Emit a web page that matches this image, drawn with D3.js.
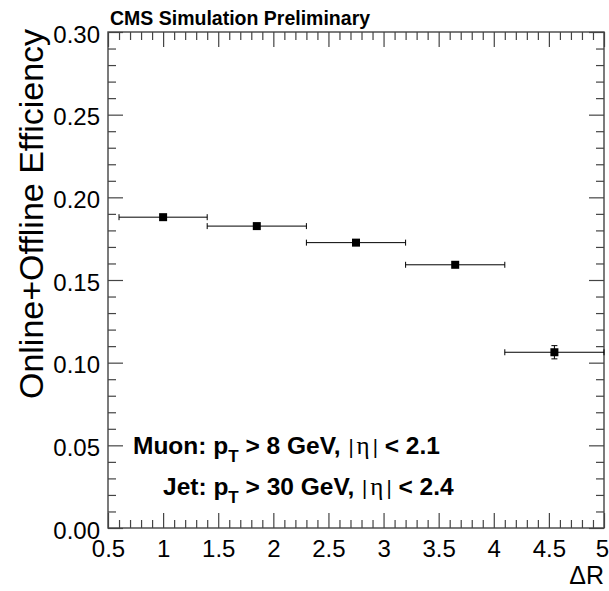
<!DOCTYPE html>
<html>
<head>
<meta charset="utf-8">
<script src="https://cdn.jsdelivr.net/npm/d3@7"></script>
<style>
  html, body { margin: 0; padding: 0; background: #fff; }
  svg { display: block; }
  text { font-family: "Liberation Sans", Arial, Helvetica, sans-serif; fill: #000; }
</style>
</head>
<body>
<svg id="chart" width="609" height="591"></svg>
<script>
// ---- data ----
const binLow  = [0.6, 1.4, 2.3, 3.2, 4.1];
const binHigh = [1.4, 2.3, 3.2, 4.1, 5.0];
const xCenter = [1.0, 1.85, 2.75, 3.65, 4.55];
const efficiency = [0.188, 0.1826, 0.1726, 0.1592, 0.1063];
const effError   = [0.0008, 0.0008, 0.0008, 0.0010, 0.0040];
const xTickLabels = ["0.5", "1", "1.5", "2", "2.5", "3", "3.5", "4", "4.5", "5"];
const yTickLabels = ["0.00", "0.05", "0.10", "0.15", "0.20", "0.25", "0.30"];
const xMajorTicks = [0.5, 1, 1.5, 2, 2.5, 3, 3.5, 4, 4.5, 5];
const yMajorTicks = [0, 0.05, 0.10, 0.15, 0.20, 0.25, 0.30];

const svg = d3.select("#chart");
const L = 108, R = 604, T = 32, B = 528;
const x = d3.scaleLinear().domain([0.5, 5]).range([L, R]);
const y = d3.scaleLinear().domain([0, 0.3]).range([B, T]);

const xMinor = d3.range(5, 51).map(d => d / 10).filter(d => Math.abs(d * 2 - Math.round(d * 2)) > 1e-6);
const yMinor = d3.range(0, 31).map(d => d / 100).filter(d => Math.abs(d * 20 - Math.round(d * 20)) > 1e-6);

const majorLen = 15, minorLen = 8;
const axisColor = "#444";

function styleAxis(g) {
  g.select(".domain").remove();
  g.selectAll(".tick line").attr("stroke", axisColor).attr("stroke-width", 1.2);
}

// bottom major with labels
svg.append("g").attr("transform", `translate(0,${B})`)
  .call(d3.axisBottom(x).tickValues(xMajorTicks).tickSize(-majorLen)
        .tickFormat((d, i) => xTickLabels[i]).tickPadding(0))
  .call(styleAxis)
  .call(g => g.selectAll(".tick text").attr("font-size", 24).attr("dy", null).attr("y", 29)
              .attr("x", (d, i) => i === xTickLabels.length - 1 ? -2 : 0)
              .attr("font-family", '"Liberation Sans", Arial, sans-serif'));
svg.append("g").attr("transform", `translate(0,${B})`)
  .call(d3.axisBottom(x).tickValues(xMinor).tickSize(-minorLen).tickFormat(""))
  .call(styleAxis);
// top
svg.append("g").attr("transform", `translate(0,${T})`)
  .call(d3.axisTop(x).tickValues(xMajorTicks).tickSize(-majorLen).tickFormat(""))
  .call(styleAxis);
svg.append("g").attr("transform", `translate(0,${T})`)
  .call(d3.axisTop(x).tickValues(xMinor).tickSize(-minorLen).tickFormat(""))
  .call(styleAxis);
// left
svg.append("g").attr("transform", `translate(${L},0)`)
  .call(d3.axisLeft(y).tickValues(yMajorTicks).tickSize(-majorLen)
        .tickFormat((d, i) => yTickLabels[i]).tickPadding(0))
  .call(styleAxis)
  .call(g => g.selectAll(".tick text").attr("font-size", 24).attr("x", -8).attr("dy", "0.42em")
              .attr("font-family", '"Liberation Sans", Arial, sans-serif'));
svg.append("g").attr("transform", `translate(${L},0)`)
  .call(d3.axisLeft(y).tickValues(yMinor).tickSize(-minorLen).tickFormat(""))
  .call(styleAxis);
// right
svg.append("g").attr("transform", `translate(${R},0)`)
  .call(d3.axisRight(y).tickValues(yMajorTicks).tickSize(-majorLen).tickFormat(""))
  .call(styleAxis);
svg.append("g").attr("transform", `translate(${R},0)`)
  .call(d3.axisRight(y).tickValues(yMinor).tickSize(-minorLen).tickFormat(""))
  .call(styleAxis);

// frame
svg.append("rect").attr("x", L).attr("y", T).attr("width", R - L).attr("height", B - T)
  .attr("fill", "none").attr("stroke", axisColor).attr("stroke-width", 1.4);

// data
const pts = efficiency.map((v, i) => ({lo: binLow[i], hi: binHigh[i], xc: xCenter[i], v, e: effError[i]}));
const gp = svg.append("g");
const cap = 3;
pts.forEach(p => {
  gp.append("line").attr("x1", x(p.lo)).attr("x2", x(p.hi)).attr("y1", y(p.v)).attr("y2", y(p.v))
    .attr("stroke", "#000").attr("stroke-width", 1);
  gp.append("line").attr("x1", x(p.lo)).attr("x2", x(p.lo)).attr("y1", y(p.v) - cap).attr("y2", y(p.v) + cap)
    .attr("stroke", "#000").attr("stroke-width", 1);
  gp.append("line").attr("x1", x(p.hi)).attr("x2", x(p.hi)).attr("y1", y(p.v) - cap).attr("y2", y(p.v) + cap)
    .attr("stroke", "#000").attr("stroke-width", 1);
  gp.append("line").attr("x1", x(p.xc)).attr("x2", x(p.xc)).attr("y1", y(p.v - p.e)).attr("y2", y(p.v + p.e))
    .attr("stroke", "#000").attr("stroke-width", 1);
  if (y(p.v - p.e) - y(p.v + p.e) > 8) {
    [p.v - p.e, p.v + p.e].forEach(vv => gp.append("line")
      .attr("x1", x(p.xc) - cap).attr("x2", x(p.xc) + cap).attr("y1", y(vv)).attr("y2", y(vv))
      .attr("stroke", "#000").attr("stroke-width", 1));
  }
  gp.append("rect").attr("x", x(p.xc) - 4).attr("y", y(p.v) - 4).attr("width", 8).attr("height", 8)
    .attr("fill", "#000");
});

// titles
svg.append("text").attr("x", 110).attr("y", 25).attr("font-size", 19.5).attr("font-weight", "bold")
  .text("CMS Simulation Preliminary");

svg.append("text").attr("transform", "translate(43,214) rotate(-90)").attr("text-anchor", "middle")
  .attr("font-size", 34).text("Online+Offline Efficiency");

svg.append("text").attr("x", 604).attr("y", 584).attr("text-anchor", "end").attr("font-size", 25)
  .text("ΔR");

// legend texts
function legendLine(xs, ys, pre, mid, tail) {
  const t = svg.append("text").attr("x", xs).attr("y", ys).attr("font-size", 24.5).attr("font-weight", "bold");
  t.append("tspan").text(pre);
  t.append("tspan").attr("font-size", 17).attr("dy", 8).text("T");
  t.append("tspan").attr("dy", -8).text(mid);
  t.append("tspan").attr("font-weight", "normal").attr("font-size", 20).attr("dx", 1).text("|");
  t.append("tspan").attr("font-weight", "normal").attr("font-family", '"Liberation Serif", "DejaVu Serif", serif')
    .attr("font-size", 25).attr("dx", 3).text("η");
  t.append("tspan").attr("font-weight", "normal").attr("font-size", 20).attr("dx", 3).text("|");
  t.append("tspan").text(tail);
}
legendLine(133, 454, "Muon: p", " > 8 GeV, ", " < 2.1");
legendLine(163, 495, "Jet: p", " > 30 GeV, ", " < 2.4");
</script>
</body>
</html>
